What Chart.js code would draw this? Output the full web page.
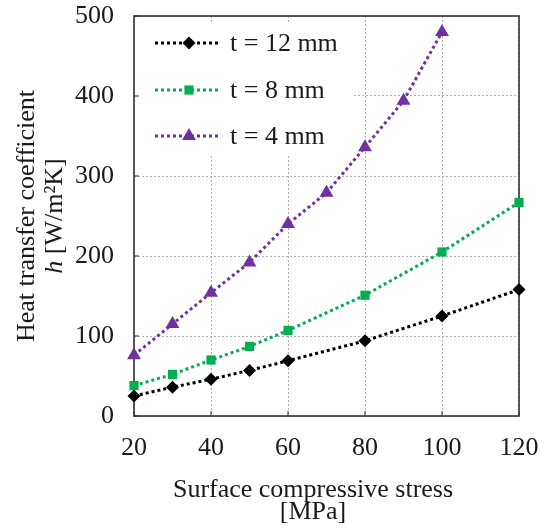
<!DOCTYPE html>
<html>
<head>
<meta charset="utf-8">
<script src="https://cdn.jsdelivr.net/npm/chart.js@4.4.1/dist/chart.umd.min.js"></script>
<style>
  html, body { margin: 0; padding: 0; background: #fff; }
  #wrap { width: 549px; height: 530px; position: relative; }
</style>
</head>
<body>
<div id="wrap"><canvas id="c" width="549" height="530"></canvas></div>
<script>
// ---- data ----
const seriesNames = ['t = 12 mm', 't = 8 mm', 't = 4 mm'];
const stress12 = [20, 30, 40, 50, 60, 80, 100, 120];
const h12      = [25, 36, 46, 57, 69, 94, 125, 158];
const stress8  = [20, 30, 40, 50, 60, 80, 100, 120];
const h8       = [38, 52, 70, 87, 107, 151, 205, 267];
const stress4  = [20, 30, 40, 50, 60, 70, 80, 90, 100];
const h4       = [76, 115, 154, 192, 240, 279, 336, 394, 480];
const xTicks = [20, 40, 60, 80, 100, 120];
const yTicks = [0, 100, 200, 300, 400, 500];
const xTitle = ['Surface compressive stress', '[MPa]'];
const yTitle1 = 'Heat transfer coefficient';
const yTitle2italic = 'h';
const yTitle2rest = ' [W/m\u00B2K]';

const FONT = '"Liberation Serif", "Times New Roman", serif';
const colors = ['#000000', '#00b050', '#7030a0'];
const styles = ['rectRot', 'rect', 'triangle'];
const radii = [6.5, 6.5, 8];

function pts(xs, ys) { return xs.map((x, i) => ({ x: x, y: ys[i] })); }
const allData = [pts(stress12, h12), pts(stress8, h8), pts(stress4, h4)];

const datasets = allData.map((d, i) => ({
  label: seriesNames[i],
  data: d,
  borderColor: colors[i],
  backgroundColor: colors[i],
  borderWidth: 3,
  borderDash: [3, 3],
  pointStyle: styles[i],
  pointRadius: radii[i],
  pointHoverRadius: radii[i],
  pointBorderWidth: 0,
  pointBackgroundColor: colors[i],
  tension: 0,
  clip: false
}));

const deco = {
  id: 'deco',
  beforeDatasetsDraw(chart) {
    const { ctx, chartArea: a, scales } = chart;
    ctx.save();
    // legend background hides grid
    ctx.fillStyle = '#fff';
    ctx.fillRect(a.left + 1, 22, 353 - a.left - 1, 155 - 22);
    // inward ticks
    ctx.strokeStyle = '#333';
    ctx.lineWidth = 1;
    xTicks.forEach(v => {
      const x = scales.x.getPixelForValue(v);
      ctx.beginPath(); ctx.moveTo(x, a.bottom); ctx.lineTo(x, a.bottom - 5); ctx.stroke();
    });
    yTicks.forEach(v => {
      const y = scales.y.getPixelForValue(v);
      ctx.beginPath(); ctx.moveTo(a.left, y); ctx.lineTo(a.left + 5, y); ctx.stroke();
    });
    // frame
    ctx.strokeStyle = '#333';
    ctx.lineWidth = 1.6;
    ctx.strokeRect(a.left, a.top, a.right - a.left, a.bottom - a.top);
    ctx.restore();
  },
  afterDraw(chart) {
    const { ctx, chartArea: a } = chart;
    ctx.save();
    ctx.fillStyle = '#1a1a1a';
    ctx.font = '26px ' + FONT;
    // legend
    const rows = [43, 90, 136];
    chart.data.datasets.forEach((ds, i) => {
      const y = rows[i];
      ctx.save();
      ctx.strokeStyle = ds.borderColor;
      ctx.lineWidth = 3;
      ctx.setLineDash([3, 3]);
      ctx.beginPath(); ctx.moveTo(155, y); ctx.lineTo(221, y); ctx.stroke();
      ctx.restore();
      ctx.save();
      ctx.fillStyle = ds.backgroundColor;
      ctx.strokeStyle = ds.backgroundColor;
      Chart.helpers.drawPoint(ctx, { pointStyle: ds.pointStyle, radius: ds.pointRadius, borderWidth: 0, rotation: 0 }, 189, y);
      ctx.restore();
      ctx.textAlign = 'left';
      ctx.textBaseline = 'middle';
      ctx.fillText(ds.label, 230, y + 1);
    });
    // x title
    ctx.textAlign = 'center';
    ctx.textBaseline = 'alphabetic';
    ctx.fillText(xTitle[0], 313, 497);
    ctx.fillText(xTitle[1], 313, 519);
    // y title
    const cy = (a.top + a.bottom) / 2;
    ctx.save();
    ctx.translate(34, cy);
    ctx.rotate(-Math.PI / 2);
    ctx.textAlign = 'center';
    ctx.fillText(yTitle1, 0, 0);
    ctx.restore();
    ctx.save();
    ctx.translate(62, cy);
    ctx.rotate(-Math.PI / 2);
    ctx.textAlign = 'left';
    ctx.font = 'italic 26px ' + FONT;
    const wi = ctx.measureText(yTitle2italic).width;
    ctx.font = '26px ' + FONT;
    const wr = ctx.measureText(yTitle2rest).width;
    const start = -(wi + wr) / 2;
    ctx.font = 'italic 26px ' + FONT;
    ctx.fillText(yTitle2italic, start, 0);
    ctx.font = '26px ' + FONT;
    ctx.fillText(yTitle2rest, start + wi, 0);
    ctx.restore();
    ctx.restore();
  }
};

new Chart(document.getElementById('c'), {
  type: 'line',
  data: { datasets: datasets },
  options: {
    responsive: false,
    animation: false,
    layout: { autoPadding: false, padding: { top: 16, right: 30, left: 0, bottom: 0 } },
    plugins: { legend: { display: false }, tooltip: { enabled: false } },
    scales: {
      x: {
        type: 'linear',
        min: 20, max: 120,
        afterBuildTicks: s => { s.ticks = xTicks.map(v => ({ value: v })); },
        afterFit: s => { s.height = 114; s.paddingLeft = 0; s.paddingRight = 0; },
        ticks: { font: { family: FONT, size: 26 }, color: '#1a1a1a', padding: 17, maxRotation: 0 },
        grid: { color: '#b0b0b0', lineWidth: 1, drawTicks: false },
        border: { display: false, dash: [2, 2] }
      },
      y: {
        type: 'linear',
        min: 0, max: 500,
        afterBuildTicks: s => { s.ticks = yTicks.map(v => ({ value: v })); },
        afterFit: s => { s.width = 134; s.paddingTop = 0; s.paddingBottom = 0; },
        ticks: { font: { family: FONT, size: 26 }, color: '#1a1a1a', padding: 20 },
        grid: { color: '#b0b0b0', lineWidth: 1, drawTicks: false },
        border: { display: false, dash: [2, 2] }
      }
    }
  },
  plugins: [deco]
});
</script>
</body>
</html>
